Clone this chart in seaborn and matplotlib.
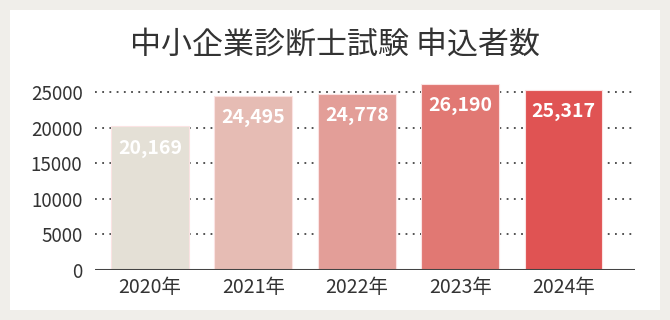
import matplotlib
matplotlib.use("Agg")
import matplotlib.pyplot as plt
import seaborn as sns
import pandas as pd
from matplotlib.patches import Rectangle

years = ["2020年", "2021年", "2022年", "2023年", "2024年"]
applicants = [20169, 24495, 24778, 26190, 25317]
value_labels = ["20,169", "24,495", "24,778", "26,190", "25,317"]
bar_colors = ["#e4e0d6", "#e6bcb4", "#e39e98", "#e17873", "#e05353"]
title = "中小企業診断士試験 申込者数"
yticks = [0, 5000, 10000, 15000, 20000, 25000]

sns.set_theme(style="white")
plt.rcParams["font.family"] = ["Noto Sans CJK JP", "DejaVu Sans"]

df = pd.DataFrame({"year": years, "n": applicants})

fig = plt.figure(figsize=(6.7, 3.2), dpi=100)
fig.patch.set_facecolor("#f0eeea")
fig.add_artist(Rectangle((10 / 670, 10 / 320), 650 / 670, 300 / 320,
                         transform=fig.transFigure, facecolor="white",
                         edgecolor="none", zorder=0))

ax = fig.add_axes([95 / 670, (320 - 270) / 320, 540 / 670, (270 - 81) / 320])
ax.set_facecolor("none")

sns.barplot(data=df, x="year", y="n", hue="year", palette=bar_colors,
            legend=False, width=0.75, ax=ax, zorder=3,
            edgecolor="#fbe3e3", linewidth=0.8, saturation=1)

ax.set_ylim(0, 26550)
ax.set_xlim(-0.53, 4.69)
ax.set_yticks(yticks)
ax.set_yticklabels([str(v) for v in yticks])
for v in yticks[1:]:
    ax.axhline(v, color="#444444", linestyle=(0, (1, 3)), linewidth=1.3, zorder=1)
ax.axhline(0, color="#444444", linewidth=2.2, zorder=4)

for s in ["top", "right", "left", "bottom"]:
    ax.spines[s].set_visible(False)

ax.tick_params(axis="y", length=0, pad=9, labelsize=13.5, labelcolor="#333333")
ax.tick_params(axis="x", length=0, pad=5, labelsize=14, labelcolor="#333333")
ax.set_xlabel("")
ax.set_ylabel("")

for i, (v, lab) in enumerate(zip(applicants, value_labels)):
    ax.annotate(lab, (i, v), xytext=(0, -9), textcoords="offset points",
                ha="center", va="top", color="white", fontsize=14,
                fontweight="bold", zorder=5)

fig.text(0.5, 1 - 45 / 320, title, ha="center", va="center", fontsize=22.3,
         color="#333333")

fig.savefig("out.png", dpi=100, facecolor=fig.get_facecolor())
